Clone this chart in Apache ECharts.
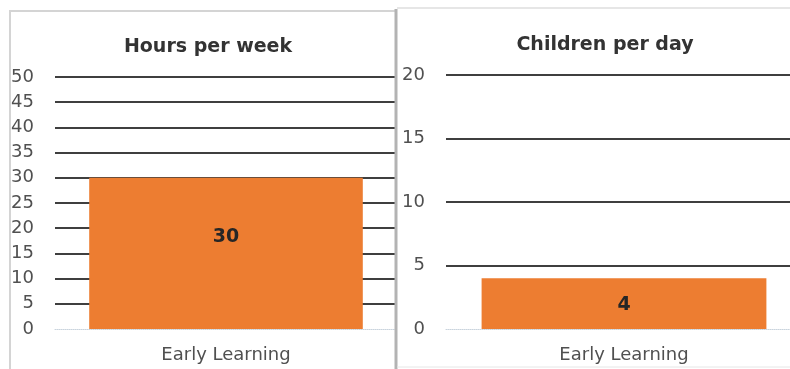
<!DOCTYPE html>
<html><head><meta charset="utf-8">
<script src="https://cdn.jsdelivr.net/npm/echarts@6/dist/echarts.min.js"></script>
<style>html,body{margin:0;padding:0;background:#fff}#c{width:790px;height:369px}</style>
</head><body><div id="c"></div>
<script>
const categories = ['Early Learning'];
const hoursPerWeek = [30];
const childrenPerDay = [4];
const titles = ['Hours per week', 'Children per day'];

const FONT = 'DejaVu Sans';
const GRID_COLOR = '#3f3f3f';
const LABEL_COLOR = '#505050';

function yAxis(gridIndex, max, interval) {
  return {
    type: 'value', gridIndex, min: 0, max, interval,
    axisLine: {show: false}, axisTick: {show: false},
    axisLabel: {color: LABEL_COLOR, fontFamily: FONT, fontSize: 18, margin: 21},
    splitLine: {show: true, showMinLine: false, lineStyle: {color: GRID_COLOR, width: 2}}
  };
}
function xAxis(gridIndex) {
  return {
    type: 'category', gridIndex, data: categories,
    axisLine: {show: true, lineStyle: {color: '#c9d3dd', type: 'dotted', width: 1}},
    axisTick: {show: false},
    axisLabel: {color: LABEL_COLOR, fontFamily: FONT, fontSize: 18, margin: 17}
  };
}
function bar(idx, data, offsetY) {
  return {
    type: 'bar', xAxisIndex: idx, yAxisIndex: idx, data, barWidth: '80%',
    itemStyle: {color: '#ED7D31'},
    label: {show: true, position: 'inside', offset: [0, offsetY], color: '#262626',
            fontFamily: FONT, fontWeight: 'bold', fontSize: 19}
  };
}

const chart = echarts.init(document.getElementById('c'), null, {renderer: 'canvas'});
chart.setOption({
  animation: false,
  title: [
    {text: titles[0], left: 203, top: 33, textAlign: 'center',
     textStyle: {fontFamily: FONT, fontWeight: 'bold', fontSize: 19, color: '#333'}},
    {text: titles[1], left: 600, top: 31, textAlign: 'center',
     textStyle: {fontFamily: FONT, fontWeight: 'bold', fontSize: 19, color: '#333'}}
  ],
  grid: [
    {left: 55, right: 790 - 397, top: 77, bottom: 40, outerBoundsMode: 'none'},
    {left: 446, right: -12, top: 75, bottom: 40, outerBoundsMode: 'none'}
  ],
  xAxis: [xAxis(0), xAxis(1)],
  yAxis: [yAxis(0, 50, 5), yAxis(1, 20, 5)],
  series: [bar(0, hoursPerWeek, -16), bar(1, childrenPerDay, 1)],
  graphic: [
    {type: 'polyline', shape: {points: [[10, 369], [10, 11], [396, 11]]},
     style: {stroke: '#d4d4d4', lineWidth: 2, fill: null}, z: 100},
    {type: 'line', shape: {x1: 396, y1: 9, x2: 396, y2: 369},
     style: {stroke: '#b3b3b3', lineWidth: 3}, z: 100},
    {type: 'line', shape: {x1: 397, y1: 8, x2: 790, y2: 8},
     style: {stroke: '#e6e6e6', lineWidth: 2}, z: 100},
    {type: 'line', shape: {x1: 397, y1: 367, x2: 790, y2: 367},
     style: {stroke: '#e6e6e6', lineWidth: 1}, z: 100}
  ]
});
</script></body></html>
